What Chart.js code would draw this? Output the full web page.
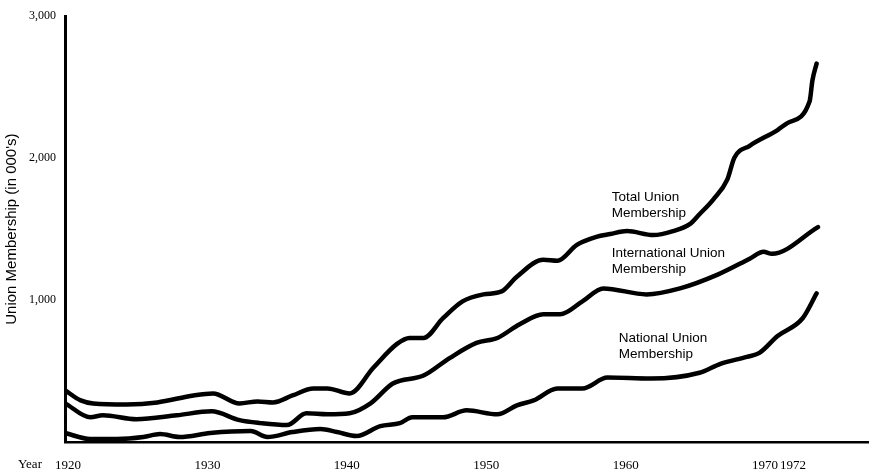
<!DOCTYPE html>
<html>
<head>
<meta charset="utf-8">
<script src="https://cdn.jsdelivr.net/npm/chart.js"></script>
<style>
  body { margin: 0; background: #fff; }
  #wrap { width: 869px; height: 475px; }
</style>
</head>
<body>
<div id="wrap"><canvas id="grafico" width="869" height="475"></canvas></div>
<script>
// valores (milhares de membros)
var totalYears = [1919.8, 1920.9, 1921.8, 1924.2, 1926.4, 1929.0, 1930.4, 1932.3, 1933.6, 1934.7, 1936.1, 1937.6, 1938.6, 1940.2, 1941.9, 1943.6, 1944.5, 1945.5, 1946.9, 1948.3, 1949.8, 1951.1, 1952.2, 1954.1, 1955.1, 1956.5, 1957.9, 1958.9, 1960.1, 1962.0, 1963.4, 1964.6, 1965.3, 1966.3, 1967.3, 1967.8, 1968.9, 1970.9, 1971.6, 1973.2, 1973.4, 1973.7];
var totalValues = [363, 293, 272, 265, 279, 328, 342, 272, 286, 279, 328, 377, 377, 342, 523, 691, 733, 733, 872, 991, 1040, 1061, 1165, 1284, 1277, 1389, 1445, 1465, 1486, 1458, 1486, 1535, 1605, 1710, 1850, 2003, 2087, 2198, 2247, 2401, 2547, 2666];

var intlYears = [1919.8, 1921.6, 1922.5, 1924.9, 1927.8, 1930.3, 1932.3, 1933.8, 1935.7, 1937.1, 1938.6, 1940.2, 1941.7, 1943.3, 1945.5, 1947.4, 1949.3, 1950.8, 1952.4, 1954.1, 1955.3, 1956.9, 1958.4, 1961.5, 1963.9, 1966.6, 1968.9, 1969.9, 1970.5, 1973.8];
var intlValues = [272, 174, 188, 160, 188, 216, 154, 133, 119, 202, 195, 202, 272, 412, 468, 593, 698, 733, 830, 900, 900, 991, 1082, 1040, 1082, 1179, 1291, 1340, 1326, 1514];

var natYears = [1919.8, 1921.6, 1923.5, 1925.4, 1926.6, 1928.0, 1930.2, 1933.1, 1934.3, 1936.1, 1938.1, 1939.3, 1940.7, 1942.4, 1943.8, 1944.7, 1946.9, 1948.6, 1950.8, 1952.2, 1953.4, 1955.1, 1956.9, 1958.7, 1961.8, 1965.3, 1966.8, 1968.7, 1969.6, 1970.9, 1972.7, 1973.7];
var natValues = [63, 21, 21, 35, 56, 35, 63, 77, 35, 70, 91, 70, 42, 112, 133, 174, 174, 223, 195, 258, 293, 377, 377, 454, 447, 488, 551, 600, 628, 747, 872, 1047];

var xTicks = [1920, 1930, 1940, 1950, 1960, 1970, 1972];
var yTicks = [1000, 2000, 3000];

// rotulos das curvas (ancorados em ano / valor)
var notas = [
  { linhas: ['Total Union', 'Membership'], ano: 1959.0, valor: 1724 },
  { linhas: ['International Union', 'Membership'], ano: 1959.0, valor: 1333 },
  { linhas: ['National Union', 'Membership'], ano: 1959.5, valor: 733 }
];

function pontos(anos, vals) {
  var p = [];
  for (var i = 0; i < anos.length; i++) {
    p.push({ x: anos[i], y: vals[i] });
  }
  return p;
}

var serifa = '"Liberation Serif", "DejaVu Serif", serif';
var sans = '"Liberation Sans", Arial, sans-serif';

function serie(nome, dados) {
  return {
    label: nome,
    data: dados,
    borderColor: '#000',
    borderWidth: 4.5,
    pointRadius: 0,
    fill: false,
    cubicInterpolationMode: 'monotone',
    borderCapStyle: 'round',
    borderJoinStyle: 'round'
  };
}

var textos = {
  id: 'textos',
  afterDraw: function (chart) {
    var ctx = chart.ctx;
    var sx = chart.scales.x, sy = chart.scales.y;
    ctx.save();
    ctx.fillStyle = '#000';
    ctx.font = '13.5px ' + sans;
    ctx.textAlign = 'left';
    ctx.textBaseline = 'middle';
    notas.forEach(function (n) {
      var px = sx.getPixelForValue(n.ano);
      var py = sy.getPixelForValue(n.valor);
      n.linhas.forEach(function (t, k) {
        ctx.fillText(t, px, py + k * 16);
      });
    });
    ctx.font = '13px ' + serifa;
    ctx.fillText('Year', 18, chart.chartArea.bottom + 23);
    ctx.restore();
  }
};

var ctx = document.getElementById('grafico').getContext('2d');
var chart = new Chart(ctx, {
  type: 'line',
  data: {
    datasets: [
      serie('Total Union Membership', pontos(totalYears, totalValues)),
      serie('International Union Membership', pontos(intlYears, intlValues)),
      serie('National Union Membership', pontos(natYears, natValues))
    ]
  },
  options: {
    responsive: false,
    animation: false,
    layout: { padding: { top: 12, right: 0, bottom: 0, left: 0 } },
    plugins: {
      legend: { display: false },
      tooltip: { enabled: false }
    },
    scales: {
      x: {
        type: 'linear',
        min: 1919.78,
        max: 1977.46,
        afterBuildTicks: function (s) {
          s.ticks = xTicks.map(function (v) { return { value: v }; });
        },
        afterFit: function (s) { s.height = 33; },
        grid: { display: false, drawTicks: false },
        border: { display: true, color: '#000', width: 2.5 },
        ticks: {
          color: '#000',
          padding: 16,
          maxRotation: 0,
          autoSkip: false,
          font: { family: serifa, size: 13 },
          callback: function (v) { return String(v); }
        }
      },
      y: {
        min: 0,
        max: 3000,
        afterBuildTicks: function (s) {
          s.ticks = yTicks.map(function (v) { return { value: v }; });
        },
        afterFit: function (s) { s.width = 65; },
        grid: { display: false, drawTicks: false },
        border: { display: true, color: '#000', width: 3 },
        ticks: {
          color: '#000',
          padding: 9,
          font: { family: serifa, size: 12 },
          callback: function (v) { return v.toLocaleString('en-US'); }
        },
        title: {
          display: true,
          text: "Union Membership (in 000's)",
          color: '#000',
          padding: { top: 3, bottom: 4 },
          font: { family: sans, size: 15 }
        }
      }
    }
  },
  plugins: [textos]
});
</script>
</body>
</html>
